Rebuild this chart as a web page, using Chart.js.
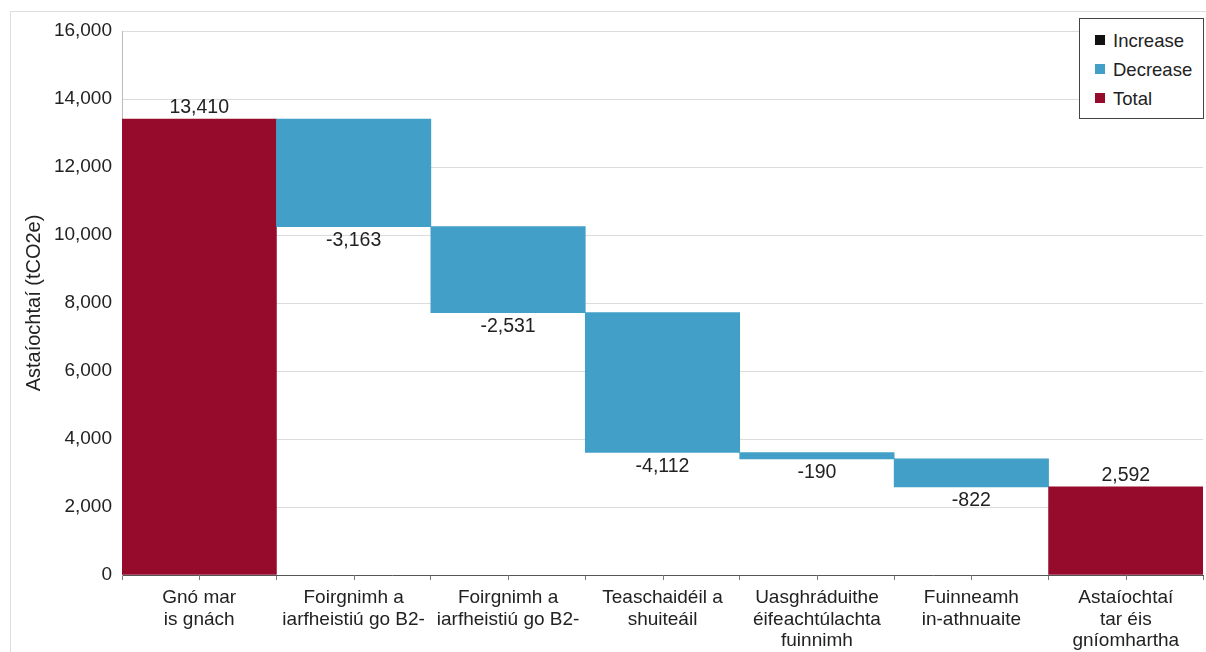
<!DOCTYPE html>
<html lang="ga">
<head>
    <meta charset="UTF-8">
    <title>Astaíochtaí (tCO2e)</title>
    <script src="https://cdn.jsdelivr.net/npm/chart.js"></script>
    <style>
        body { margin: 0; background: #fff; font-family: "Liberation Sans", Arial, sans-serif; }
        .wrap { position: relative; width: 1206px; height: 652px; overflow: hidden; }
        .frame { position: absolute; left: 10px; top: 11px; width: 1300px; height: 700px; border: 1px solid #dedede; }
        canvas { position: absolute; left: 0; top: 0; }
        .legend {
            position: absolute; left: 1079px; top: 18px; width: 123px; height: 99px;
            border: 1px solid #444; background: #fff; font-size: 18.5px; color: #222;
        }
        .legend div { position: absolute; left: 15px; height: 22px; line-height: 22px; white-space: nowrap; }
        .legend span { display: inline-block; width: 10px; height: 10px; margin-right: 8px; vertical-align: 2px; }
    </style>
</head>
<body>
    <div class="wrap">
        <div class="frame"></div>
        <canvas id="waterfall" width="1206" height="652"></canvas>
        <div class="legend">
            <div style="top: 11px"><span style="background:#111"></span>Increase</div>
            <div style="top: 40px"><span style="background:#42a0c8"></span>Decrease</div>
            <div style="top: 69px"><span style="background:#960b2c"></span>Total</div>
        </div>
    </div>

    <script>
        // catagóirí agus luachanna
        const categories = [
            ['Gnó mar', 'is gnách'],
            ['Foirgnimh a', 'iarfheistiú go B2-'],
            ['Foirgnimh a', 'iarfheistiú go B2-'],
            ['Teaschaidéil a', 'shuiteáil'],
            ['Uasghráduithe', 'éifeachtúlachta', 'fuinnimh'],
            ['Fuinneamh', 'in-athnuaite'],
            ['Astaíochtaí', 'tar éis', 'gníomhartha']
        ];
        const startTotal = 13410;
        const changes = [-3163, -2531, -4112, -190, -822];
        const endTotal = 2592;
        const yTicks = [0, 2000, 4000, 6000, 8000, 10000, 12000, 14000, 16000];

        const colTotal = '#960b2c';
        const colDecrease = '#42a0c8';
        const colIncrease = '#111111';

        // barraí ar snámh: [bun, barr]
        const ranges = [[0, startTotal]];
        const values = [startTotal];
        const colors = [colTotal];
        let running = startTotal;
        for (const c of changes) {
            const next = running + c;
            ranges.push([Math.min(running, next), Math.max(running, next)]);
            values.push(c);
            colors.push(c < 0 ? colDecrease : colIncrease);
            running = next;
        }
        ranges.push([0, endTotal]);
        values.push(endTotal);
        colors.push(colTotal);

        const fontFamily = '"Liberation Sans", Arial, sans-serif';

        // lipéid luacha os cionn / faoi na barraí
        const valueLabels = {
            id: 'valueLabels',
            afterDatasetsDraw(chart) {
                const ctx = chart.ctx;
                const meta = chart.getDatasetMeta(0);
                ctx.save();
                ctx.font = '19.5px ' + fontFamily;
                ctx.fillStyle = '#222';
                ctx.textAlign = 'center';
                ctx.textBaseline = 'middle';
                meta.data.forEach((bar, i) => {
                    const v = values[i];
                    const text = v.toLocaleString('en-US');
                    const top = Math.min(bar.y, bar.base);
                    const bottom = Math.max(bar.y, bar.base);
                    if (v < 0) {
                        ctx.fillText(text, bar.x, bottom + 14);
                    } else {
                        ctx.fillText(text, bar.x, top - 11);
                    }
                });
                ctx.restore();
            }
        };

        // marcanna beaga i lár gach catagóire ar an ais x
        const centerTicks = {
            id: 'centerTicks',
            afterDraw(chart) {
                const x = chart.scales.x;
                const ctx = chart.ctx;
                ctx.save();
                ctx.strokeStyle = '#777';
                ctx.lineWidth = 1;
                categories.forEach((c, i) => {
                    const px = Math.round(x.getPixelForValue(i)) + 0.5;
                    ctx.beginPath();
                    ctx.moveTo(px, x.top);
                    ctx.lineTo(px, x.top + 5);
                    ctx.stroke();
                });
                ctx.restore();
            }
        };

        new Chart(document.getElementById('waterfall'), {
            type: 'bar',
            data: {
                labels: categories,
                datasets: [{
                    data: ranges,
                    backgroundColor: colors,
                    borderWidth: 0,
                    barPercentage: 1,
                    categoryPercentage: 1
                }]
            },
            options: {
                responsive: false,
                animation: false,
                layout: { padding: { top: 31, right: 3, left: 0, bottom: 0 } },
                plugins: {
                    legend: { display: false },
                    tooltip: { enabled: false }
                },
                scales: {
                    x: {
                        afterFit(scale) { scale.height = 77; },
                        grid: {
                            offset: true,
                            drawOnChartArea: false,
                            tickLength: 5,
                            color: '#777'
                        },
                        border: { color: '#555' },
                        ticks: {
                            padding: 7,
                            maxRotation: 0,
                            autoSkip: false,
                            color: '#222',
                            font: { family: fontFamily, size: 19, lineHeight: 1.14 }
                        }
                    },
                    y: {
                        min: 0,
                        max: 16000,
                        afterFit(scale) { scale.width = 122; },
                        afterBuildTicks(scale) { scale.ticks = yTicks.map(v => ({ value: v })); },
                        grid: {
                            color: '#dcdcdc',
                            drawTicks: false
                        },
                        border: { color: '#bbb' },
                        ticks: {
                            padding: 10,
                            color: '#222',
                            font: { family: fontFamily, size: 19 },
                            callback: v => v.toLocaleString('en-US')
                        },
                        title: {
                            display: true,
                            text: 'Astaíochtaí (tCO2e)',
                            color: '#222',
                            padding: { top: 22, bottom: 0 },
                            font: { family: fontFamily, size: 20 }
                        }
                    }
                }
            },
            plugins: [valueLabels, centerTicks]
        });
    </script>
</body>
</html>
